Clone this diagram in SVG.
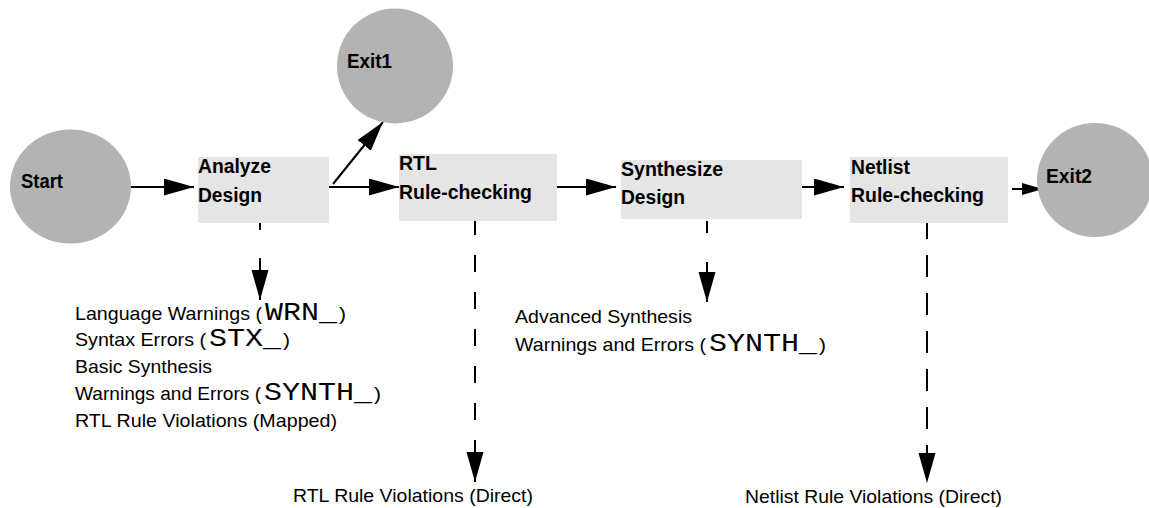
<svg xmlns="http://www.w3.org/2000/svg" width="1149" height="508" viewBox="0 0 1149 508">
  <style>
    .term { fill: #b3b3b3; }
    .step { fill: #e5e5e5; }
    .lbl { font-family: "Liberation Sans", Arial, sans-serif; font-size: 20px; font-weight: bold; fill: #000; }
    .note { font-family: "Liberation Sans", Arial, sans-serif; font-size: 19px; fill: #000; }
    .code { font-family: "Courier New", "Liberation Mono", monospace; font-size: 25px; fill: #000; }
    .flow { stroke: #000; stroke-width: 2; fill: none; }
  </style>
  <defs>
    <marker id="head" markerUnits="userSpaceOnUse" markerWidth="31" markerHeight="18" refX="30" refY="8.5" orient="auto">
      <path d="M0,0 L30,8.5 L0,17 z" fill="#000"/>
    </marker>
    <marker id="headSmall" markerUnits="userSpaceOnUse" markerWidth="22" markerHeight="13" refX="21" refY="6" orient="auto">
      <path d="M0,0 L21,6 L0,12 z" fill="#000"/>
    </marker>
  </defs>

  <!-- flow arrows and violation report arrows -->
  <g id="connectors">
    <path class="flow" d="M131,187 L194,187" marker-end="url(#head)"/>
    <path class="flow" d="M329,187 L399,187" marker-end="url(#head)"/>
    <path class="flow" d="M333,184 L383,122" marker-end="url(#head)"/>
    <path class="flow" d="M555,187 L616,187" marker-end="url(#head)"/>
    <path class="flow" d="M799,187 L844,187" marker-end="url(#head)"/>
    <path class="flow" d="M1012,189 L1043,189" marker-end="url(#headSmall)"/>
    <path class="flow" d="M260,221 L260,300" stroke-dasharray="9 28 60" marker-end="url(#head)"/>
    <path class="flow" d="M707,221 L707,302" stroke-dasharray="12 29 60" marker-end="url(#head)"/>
    <path class="flow" d="M475,218 L475,482" stroke-dasharray="17 20" marker-end="url(#head)"/>
    <path class="flow" d="M927,217 L927,483" stroke-dasharray="22 16" marker-end="url(#head)"/>
  </g>

  <g id="start">
    <ellipse class="term" cx="70.5" cy="186.5" rx="60.5" ry="57"/>
    <text class="lbl" x="21" y="188" textLength="42" lengthAdjust="spacingAndGlyphs">Start</text>
  </g>

  <g id="exit1">
    <ellipse class="term" cx="395" cy="66" rx="58" ry="57.5"/>
    <text class="lbl" x="347" y="68" textLength="45" lengthAdjust="spacingAndGlyphs">Exit1</text>
  </g>

  <g id="analyze-design">
    <rect class="step" x="198" y="157" width="131" height="66"/>
    <text class="lbl" x="198" y="173" textLength="73" lengthAdjust="spacingAndGlyphs">Analyze</text>
    <text class="lbl" x="198" y="202" textLength="64" lengthAdjust="spacingAndGlyphs">Design</text>
  </g>

  <g id="rtl-rule-checking">
    <rect class="step" x="399" y="154" width="158" height="67"/>
    <text class="lbl" x="399" y="170" textLength="38" lengthAdjust="spacingAndGlyphs">RTL</text>
    <text class="lbl" x="399" y="199" textLength="133" lengthAdjust="spacingAndGlyphs">Rule-checking</text>
  </g>

  <g id="synthesize-design">
    <rect class="step" x="621" y="160" width="181" height="59"/>
    <text class="lbl" x="621" y="176" textLength="102" lengthAdjust="spacingAndGlyphs">Synthesize</text>
    <text class="lbl" x="621" y="204" textLength="64" lengthAdjust="spacingAndGlyphs">Design</text>
  </g>

  <g id="netlist-rule-checking">
    <rect class="step" x="850" y="157" width="158" height="66"/>
    <text class="lbl" x="851" y="174" textLength="59" lengthAdjust="spacingAndGlyphs">Netlist</text>
    <text class="lbl" x="851" y="202" textLength="133" lengthAdjust="spacingAndGlyphs">Rule-checking</text>
  </g>

  <g id="exit2">
    <ellipse class="term" cx="1095" cy="180" rx="58" ry="57"/>
    <text class="lbl" x="1046" y="183" textLength="46" lengthAdjust="spacingAndGlyphs">Exit2</text>
  </g>

  <!-- messages reported by the analysis step -->
  <g id="analyze-messages">
    <text class="note" x="75" y="320" textLength="187" lengthAdjust="spacingAndGlyphs">Language Warnings (</text>
    <text class="code" x="265" y="320" textLength="72" lengthAdjust="spacingAndGlyphs">WRN_</text>
    <text class="note" x="339" y="320" textLength="7" lengthAdjust="spacingAndGlyphs">)</text>
    <text class="note" x="75" y="346" textLength="131" lengthAdjust="spacingAndGlyphs">Syntax Errors (</text>
    <text class="code" x="209" y="346" textLength="72" lengthAdjust="spacingAndGlyphs">STX_</text>
    <text class="note" x="283" y="346" textLength="7" lengthAdjust="spacingAndGlyphs">)</text>
    <text class="note" x="75" y="373" textLength="137" lengthAdjust="spacingAndGlyphs">Basic Synthesis</text>
    <text class="note" x="75" y="400" textLength="186" lengthAdjust="spacingAndGlyphs">Warnings and Errors (</text>
    <text class="code" x="264" y="400" textLength="108" lengthAdjust="spacingAndGlyphs">SYNTH_</text>
    <text class="note" x="374" y="400" textLength="7" lengthAdjust="spacingAndGlyphs">)</text>
    <text class="note" x="75" y="427" textLength="262" lengthAdjust="spacingAndGlyphs">RTL Rule Violations (Mapped)</text>
  </g>

  <!-- messages reported by the synthesis step -->
  <g id="synthesis-messages">
    <text class="note" x="515" y="323" textLength="177" lengthAdjust="spacingAndGlyphs">Advanced Synthesis</text>
    <text class="note" x="515" y="351" textLength="191" lengthAdjust="spacingAndGlyphs">Warnings and Errors (</text>
    <text class="code" x="709" y="351" textLength="108" lengthAdjust="spacingAndGlyphs">SYNTH_</text>
    <text class="note" x="819" y="351" textLength="7" lengthAdjust="spacingAndGlyphs">)</text>
  </g>

  <g id="rtl-direct">
    <text class="note" x="293" y="502" textLength="240" lengthAdjust="spacingAndGlyphs">RTL Rule Violations (Direct)</text>
  </g>

  <g id="netlist-direct">
    <text class="note" x="745" y="503" textLength="257" lengthAdjust="spacingAndGlyphs">Netlist Rule Violations (Direct)</text>
  </g>
</svg>
